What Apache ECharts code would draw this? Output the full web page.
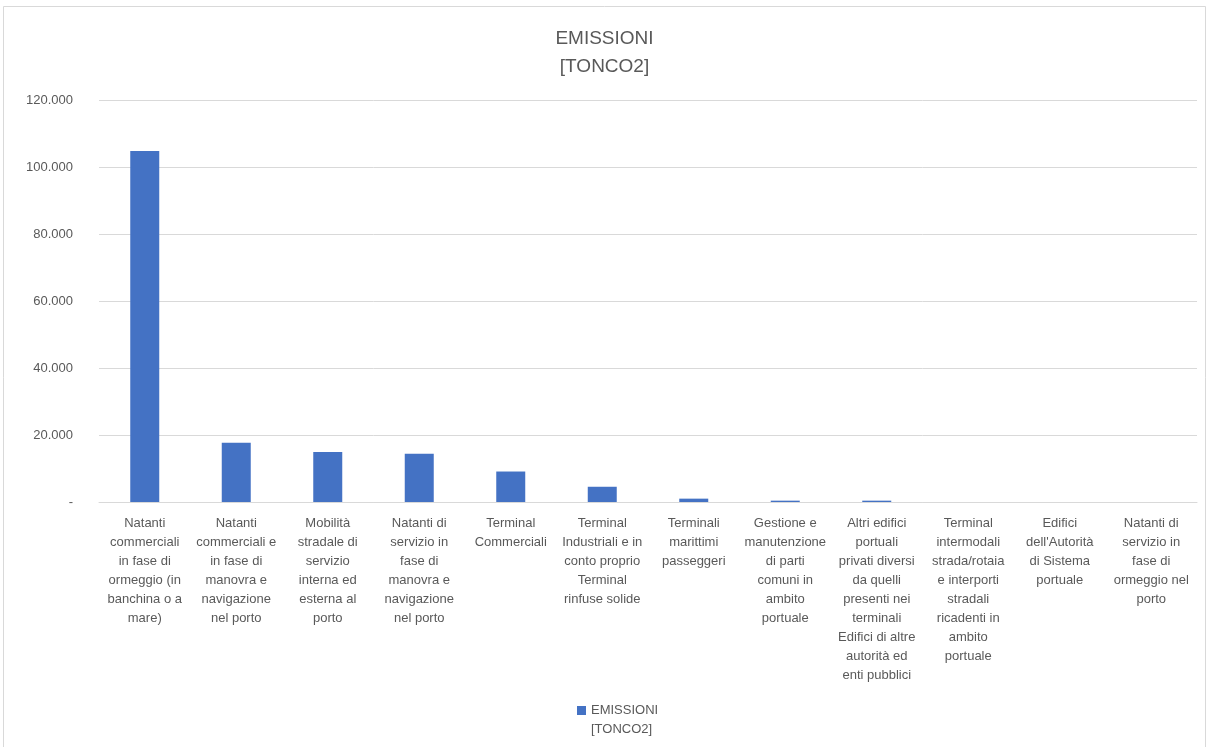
<!DOCTYPE html>
<html>
<head>
<meta charset="utf-8">
<script src="https://cdn.jsdelivr.net/npm/echarts@6/dist/echarts.min.js"></script>
<style>
html,body{margin:0;padding:0;background:#fff;}
#chart{width:1209px;height:747px;}
</style>
</head>
<body>
<div id="chart"></div>
<script>
const categories = [
  "Natanti\ncommerciali\nin fase di\normeggio (in\nbanchina o a\nmare)",
  "Natanti\ncommerciali e\nin fase di\nmanovra e\nnavigazione\nnel porto",
  "Mobilità\nstradale di\nservizio\ninterna ed\nesterna al\nporto",
  "Natanti di\nservizio in\nfase di\nmanovra e\nnavigazione\nnel porto",
  "Terminal\nCommerciali",
  "Terminal\nIndustriali e in\nconto proprio\nTerminal\nrinfuse solide",
  "Terminali\nmarittimi\npasseggeri",
  "Gestione e\nmanutenzione\ndi parti\ncomuni in\nambito\nportuale",
  "Altri edifici\nportuali\nprivati diversi\nda quelli\npresenti nei\nterminali\nEdifici di altre\nautorità ed\nenti pubblici",
  "Terminal\nintermodali\nstrada/rotaia\ne interporti\nstradali\nricadenti in\nambito\nportuale",
  "Edifici\ndell'Autorità\ndi Sistema\nportuale",
  "Natanti di\nservizio in\nfase di\normeggio nel\nporto"
];
const emissioni = [104800, 17700, 14900, 14400, 9100, 4550, 1000, 400, 400, 0, 0, 0];
const seriesName = "EMISSIONI\n[TONCO2]";
const titleText = "EMISSIONI\n[TONCO2]";

const fmt = v => v === 0 ? "-" : v.toString().replace(/\B(?=(\d{3})+(?!\d))/g, ".");
const textColor = "#595959";
const fontFamily = "'Liberation Sans', 'DejaVu Sans', sans-serif";

const chart = echarts.init(document.getElementById('chart'));
chart.setOption({
  animation: false,
  backgroundColor: "#fff",
  textStyle: { fontFamily: fontFamily },
  graphic: [{
    type: 'rect',
    shape: { x: 3.5, y: 6.5, width: 1202, height: 750 },
    style: { fill: 'none', stroke: '#d9d9d9', lineWidth: 1 },
    silent: true
  }],
  title: {
    text: titleText,
    left: 'center',
    top: 20,
    textStyle: { color: textColor, fontSize: 19, fontWeight: 'normal', lineHeight: 28, fontFamily: fontFamily }
  },
  legend: {
    bottom: 3,
    left: 572,
    itemWidth: 9,
    itemHeight: 28,
    itemGap: 5,
    icon: 'path://M0,0H9V9H0Z M0,28L0.01,28L0,28.01Z',
    textStyle: { color: textColor, fontSize: 13, lineHeight: 19, fontFamily: fontFamily },
    data: [seriesName]
  },
  grid: { left: 99, right: 12, top: 100, bottom: 245, containLabel: false },
  xAxis: {
    type: 'category',
    data: categories,
    axisLine: { lineStyle: { color: '#d9d9d9' } },
    axisTick: { show: false },
    axisLabel: { interval: 0, color: textColor, fontSize: 13, lineHeight: 19, margin: 12, align: 'center' }
  },
  yAxis: {
    type: 'value',
    min: 0,
    max: 120000,
    interval: 20000,
    axisLine: { show: false },
    axisTick: { show: false },
    splitLine: { lineStyle: { color: '#d9d9d9' } },
    axisLabel: { color: textColor, fontSize: 13, margin: 26, formatter: fmt }
  },
  series: [{
    name: seriesName,
    type: 'bar',
    data: emissioni,
    barWidth: 29,
    itemStyle: { color: '#4472C4' }
  }]
});
</script>
</body>
</html>
